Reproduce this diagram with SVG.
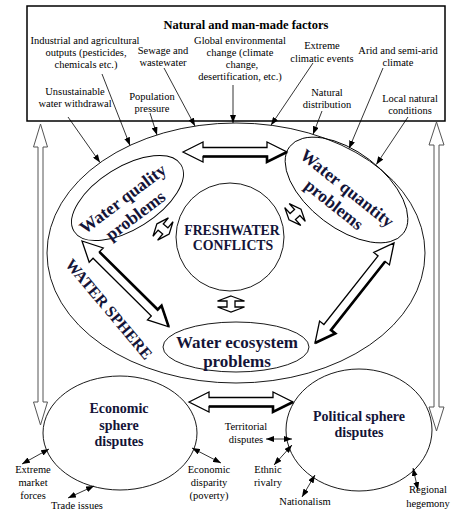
<svg xmlns="http://www.w3.org/2000/svg" width="473" height="514" viewBox="0 0 473 514" font-family="'Liberation Serif', 'DejaVu Serif', serif">
<style>
.lbl{font-family:'Liberation Serif','DejaVu Serif',serif;font-size:10.5px;fill:#000;text-anchor:middle}
.ttl{font-family:'Liberation Serif','DejaVu Serif',serif;font-size:12.5px;font-weight:bold;fill:#000;text-anchor:middle}
.big{font-family:'Liberation Serif','DejaVu Serif',serif;font-weight:bold;fill:#141438;text-anchor:middle}
.shape{fill:none;stroke:#000;stroke-width:0.9}
.box{fill:#fff;stroke:#000;stroke-width:1.5}
.thin{fill:none;stroke:#000;stroke-width:0.8}
.hollow{fill:#fff;stroke:#000;stroke-width:1.3;stroke-linejoin:miter}
.shadow{fill:none;stroke:#000;stroke-width:2.6}
.long{fill:#fff;stroke:#555;stroke-width:1}
</style>
<defs>
<marker id="ah" markerUnits="userSpaceOnUse" markerWidth="8" markerHeight="6" refX="8" refY="3" orient="auto-start-reverse">
<path d="M0,0 L8,3 L0,6 z" fill="#000"/>
</marker>
</defs>

<g id="factors">
<rect class="box" x="27" y="6" width="418" height="115"/>
<text class="ttl" x="246" y="29">Natural and man-made factors</text>
<text class="lbl" x="85" y="44">Industrial and agricultural</text>
<text class="lbl" x="86" y="56">outputs (pesticides,</text>
<text class="lbl" x="86" y="68">chemicals etc.)</text>
<text class="lbl" x="163" y="54">Sewage and</text>
<text class="lbl" x="163" y="66">wastewater</text>
<text class="lbl" x="240" y="44">Global environmental</text>
<text class="lbl" x="240" y="56">change (climate</text>
<text class="lbl" x="242" y="68">change,</text>
<text class="lbl" x="240" y="80">desertification, etc.)</text>
<text class="lbl" x="322" y="49">Extreme</text>
<text class="lbl" x="322" y="62">climatic events</text>
<text class="lbl" x="398" y="54">Arid and semi-arid</text>
<text class="lbl" x="398" y="66">climate</text>
<text class="lbl" x="75" y="95">Unsustainable</text>
<text class="lbl" x="75" y="107">water withdrawal</text>
<text class="lbl" x="152" y="100">Population</text>
<text class="lbl" x="152" y="112">pressure</text>
<text class="lbl" x="327" y="96">Natural</text>
<text class="lbl" x="327" y="108">distribution</text>
<text class="lbl" x="410" y="102">Local natural</text>
<text class="lbl" x="410" y="114">conditions</text>
</g>

<g id="water-sphere">
<ellipse class="shape" cx="236" cy="253" rx="189" ry="130"/>
<text class="big" font-size="16" transform="translate(109,309) rotate(50)" x="0" y="5.5">WATER SPHERE</text>
</g>

<g id="water-quality">
<ellipse class="shape" cx="127.5" cy="198" rx="63" ry="31" transform="rotate(-32 127.5 198)"/>
<g transform="translate(129,207) rotate(-37)">
<text class="big" font-size="17.5" x="0" y="-4.5">Water quality</text>
<text class="big" font-size="17.5" x="0" y="16.5">problems</text>
</g>
</g>

<g id="water-quantity">
<ellipse class="shape" cx="346.5" cy="190" rx="71.5" ry="38" transform="rotate(37.3 346.5 190)"/>
<g transform="translate(340.7,196.3) rotate(38.5)">
<text class="big" font-size="17.5" x="0" y="-4.5">Water quantity</text>
<text class="big" font-size="17.5" x="0" y="16.5">problems</text>
</g>
</g>

<g id="freshwater-conflicts">
<circle class="shape" cx="230" cy="237" r="54"/>
<text class="big" font-size="13.8" x="232" y="235">FRESHWATER</text>
<text class="big" font-size="13.8" x="233" y="250">CONFLICTS</text>
</g>

<g id="water-ecosystem">
<ellipse class="shape" cx="236" cy="347" rx="73" ry="25"/>
<text class="big" font-size="17" x="237" y="348">Water ecosystem</text>
<text class="big" font-size="17" x="237" y="366.5">problems</text>
</g>

<g id="economic">
<ellipse class="shape" cx="120" cy="433" rx="77" ry="57"/>
<text class="big" font-size="14" x="119" y="413">Economic</text>
<text class="big" font-size="14" x="119" y="429.5">sphere</text>
<text class="big" font-size="14" x="119" y="445.5">disputes</text>
<text class="lbl" x="33" y="473">Extreme</text>
<text class="lbl" x="33" y="486">market</text>
<text class="lbl" x="33" y="499">forces</text>
<text class="lbl" x="77" y="509">Trade issues</text>
<text class="lbl" x="209" y="473">Economic</text>
<text class="lbl" x="209" y="486">disparity</text>
<text class="lbl" x="209" y="499">(poverty)</text>
</g>

<g id="political">
<ellipse class="shape" cx="359" cy="430" rx="73" ry="61"/>
<text class="big" font-size="14" x="359" y="421">Political sphere</text>
<text class="big" font-size="14" x="359" y="436.5">disputes</text>
<text class="lbl" x="246" y="430">Territorial</text>
<text class="lbl" x="246" y="443">disputes</text>
<text class="lbl" x="268" y="473">Ethnic</text>
<text class="lbl" x="268" y="486">rivalry</text>
<text class="lbl" x="305" y="505">Nationalism</text>
<text class="lbl" x="428" y="493">Regional</text>
<text class="lbl" x="428" y="507">hegemony</text>
</g>

<g id="connectors">
<line class="thin" x1="68" y1="117" x2="100" y2="162.5" marker-end="url(#ah)"/>
<line class="thin" x1="102" y1="74" x2="130" y2="145.4" marker-end="url(#ah)"/>
<line class="thin" x1="150" y1="113" x2="157" y2="135" marker-end="url(#ah)"/>
<line class="thin" x1="164" y1="68" x2="195" y2="126.1" marker-end="url(#ah)"/>
<line class="thin" x1="233" y1="85" x2="233" y2="123" marker-end="url(#ah)"/>
<line class="thin" x1="313" y1="63" x2="271" y2="125.2" marker-end="url(#ah)"/>
<line class="thin" x1="322" y1="111" x2="313" y2="134.3" marker-end="url(#ah)"/>
<line class="thin" x1="383" y1="68" x2="349" y2="148.6" marker-end="url(#ah)"/>
<line class="thin" x1="408" y1="117" x2="376.3" y2="164.5" marker-end="url(#ah)"/>

<polygon class="long" points="40.5,124 47.5,147 43,147 43,402 47.5,402 40.5,425 33.5,402 38,402 38,147 33.5,147"/>
<polygon class="long" points="436.5,122 444,145 439,145 439,407 444,407 436.5,431 429,407 434,407 434,145 429,145"/>

<polygon class="hollow" points="183,152 203,142 203,147.5 267,147.5 267,142 287,152 267,162 267,156.5 203,156.5 203,162"/>
<polyline class="shadow" points="203,156.5 267,156.5 267,162 287,152"/>
<polygon class="hollow" points="189,402 209,392 209,397.5 273,397.5 273,392 293,402 273,412 273,406.5 209,406.5 209,412"/>
<polyline class="shadow" points="209,406.5 273,406.5 273,412 293,402"/>
<g transform="translate(82,241) rotate(44.7)">
<polygon class="hollow" points="0,0 20,-10 20,-4.5 102,-4.5 102,-10 122,0 102,10 102,4.5 20,4.5 20,10"/>
<polyline class="shadow" points="20,-4.5 102,-4.5 102,-10 122,0"/>
</g>
<g transform="translate(394,243) rotate(128.3)">
<polygon class="hollow" points="0,0 20,-10 20,-4.5 107.4,-4.5 107.4,-10 127.4,0 107.4,10 107.4,4.5 20,4.5 20,10"/>
<polyline class="shadow" points="20,-4.5 107.4,-4.5 107.4,-10 127.4,0"/>
</g>

<polygon class="hollow" transform="translate(163,229) rotate(40)" points="-8,0 -3,-12 -3,-4 3,-4 3,-12 8,0 3,12 3,4 -3,4 -3,12"/>
<polygon class="hollow" transform="translate(295,214.5) rotate(-42)" points="-8,0 -3,-12 -3,-4 3,-4 3,-12 8,0 3,12 3,4 -3,4 -3,12"/>
<polygon class="hollow" transform="translate(231,304) rotate(90)" points="-8,0 -3,-13.5 -3,-4 3,-4 3,-13.5 8,0 3,13.5 3,4 -3,4 -3,13.5"/>

<line class="thin" x1="22" y1="464" x2="49" y2="449" marker-start="url(#ah)" marker-end="url(#ah)"/>
<line class="thin" x1="68" y1="498" x2="94" y2="486" marker-start="url(#ah)" marker-end="url(#ah)"/>
<line class="thin" x1="192" y1="448" x2="221" y2="463" marker-start="url(#ah)" marker-end="url(#ah)"/>
<line class="thin" x1="266" y1="439" x2="292" y2="439" marker-start="url(#ah)" marker-end="url(#ah)"/>
<line class="thin" x1="274" y1="465" x2="292" y2="445" marker-start="url(#ah)" marker-end="url(#ah)"/>
<line class="thin" x1="302" y1="497" x2="315" y2="475" marker-start="url(#ah)" marker-end="url(#ah)"/>
<line class="thin" x1="413" y1="468" x2="418" y2="490" marker-start="url(#ah)" marker-end="url(#ah)"/>
</g>
</svg>
